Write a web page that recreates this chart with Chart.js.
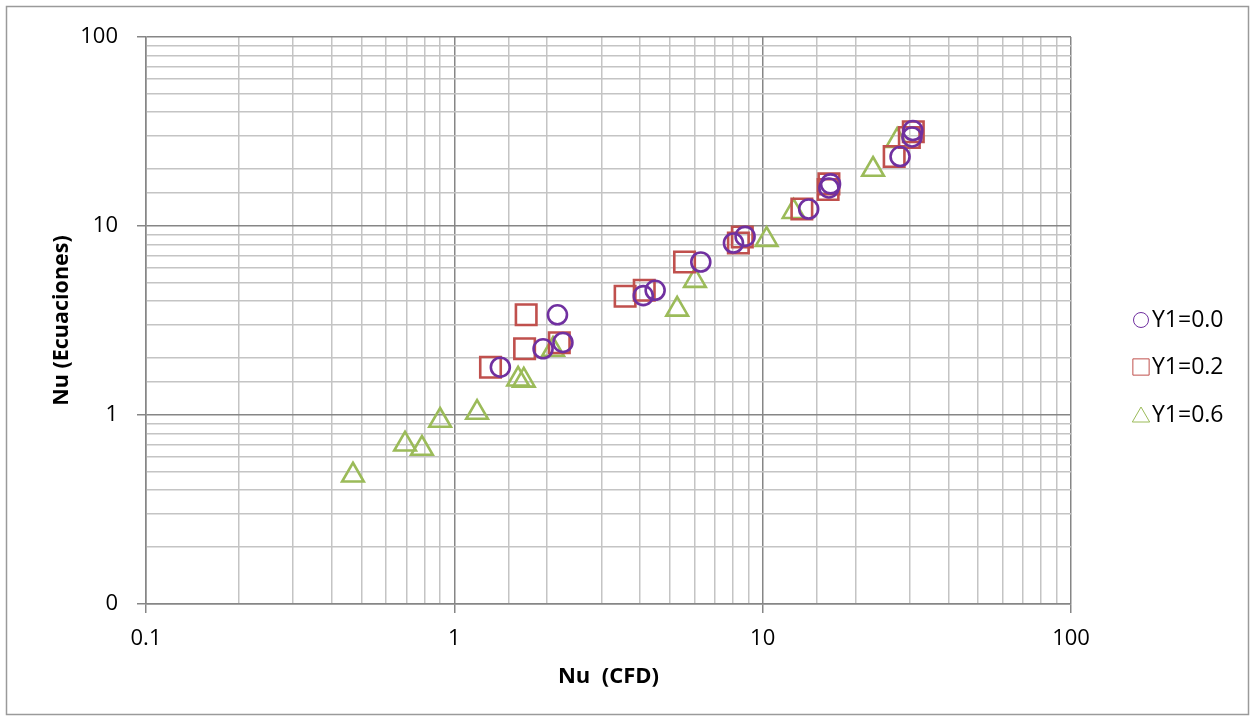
<!DOCTYPE html>
<html>
<head>
<meta charset="utf-8">
<script src="https://cdn.jsdelivr.net/npm/chart.js@4/dist/chart.umd.min.js"></script>
<style>
  html, body { margin: 0; padding: 0; background: #fff; }
  #wrap { width: 1255px; height: 721px; position: relative; }
</style>
</head>
<body>
<div id="wrap"><canvas id="nuChart" width="1255" height="721"></canvas></div>
<script>
// Nu (CFD) vs Nu (Ecuaciones), three Y1 cases
const labelsSeries = ['Y1=0.0', 'Y1=0.2', 'Y1=0.6'];

const y0_cfd = [1.41, 2.16, 1.94, 2.25, 4.10, 4.48, 6.30, 8.04, 8.77, 14.1, 16.4, 16.6, 27.9, 30.5, 30.7];
const y0_eq  = [1.79, 3.39, 2.24, 2.42, 4.28, 4.57, 6.45, 8.13, 8.81, 12.3, 15.9, 16.7, 23.3, 29.6, 32.0];

const y2_cfd = [1.31, 1.71, 1.69, 2.19, 3.58, 4.13, 5.58, 8.34, 8.59, 13.4, 16.3, 16.4, 26.7, 29.9, 30.8];
const y2_eq  = [1.79, 3.39, 2.24, 2.41, 4.25, 4.57, 6.45, 8.13, 8.75, 12.3, 15.6, 16.7, 23.3, 29.4, 31.5];

const y6_cfd = [0.469, 0.692, 0.785, 0.899, 1.185, 1.61, 1.68, 2.09, 5.28, 6.03, 10.3, 12.6, 22.8, 27.3];
const y6_eq  = [0.48, 0.70, 0.665, 0.935, 1.03, 1.545, 1.525, 2.22, 3.62, 5.14, 8.47, 11.9, 19.9, 28.3];

const colors = ['#7030A0', '#C0504D', '#9BBB59'];
const styles = ['circle', 'rect', 'triangle'];
const radii  = [9.5, 14.5, 12.5];

const toPts = (xs, ys) => xs.map((x, i) => ({ x: x, y: ys[i] }));
const seriesPts = [toPts(y0_cfd, y0_eq), toPts(y2_cfd, y2_eq), toPts(y6_cfd, y6_eq)];

const FONT = "'Open Sans', 'Liberation Sans', sans-serif";

function isDecade(v) {
  const l = Math.log10(v);
  return Math.abs(l - Math.round(l)) < 1e-6;
}

const gridColor = ctx => (ctx.tick && isDecade(ctx.tick.value)) ? '#868686' : '#c4c4c4';
const tickColor = ctx => (ctx.tick && isDecade(ctx.tick.value)) ? '#868686' : 'rgba(0,0,0,0)';

// outer frame + custom legend on the right
const framePlugin = {
  id: 'frame',
  beforeDraw(chart) {
    const c = chart.ctx;
    c.save();
    c.fillStyle = '#fff';
    c.fillRect(0, 0, chart.width, chart.height);
    c.strokeStyle = '#9a9a9a';
    c.lineWidth = 1.5;
    c.strokeRect(6.5, 6.5, 1242, 708);
    c.restore();
  },
  afterDraw(chart) {
    const c = chart.ctx;
    const ys = [320, 367, 415];
    c.save();
    c.font = '23px ' + FONT;
    c.textBaseline = 'middle';
    chart.data.datasets.forEach((ds, i) => {
      c.strokeStyle = ds.borderColor;
      c.fillStyle = 'rgba(0,0,0,0)';
      Chart.helpers.drawPoint(c, {
        pointStyle: ds.pointStyle,
        radius: [7.5, 11.5, 10][i],
        rotation: 0,
        borderWidth: 2.5
      }, 1141, ys[i] + (i === 2 ? 2 : 0));
      c.fillStyle = '#000';
      c.fillText(ds.label, 1152, ys[i]);
    });
    c.restore();
  }
};

new Chart(document.getElementById('nuChart'), {
  type: 'scatter',
  data: {
    datasets: labelsSeries.map((lab, i) => ({
      label: lab,
      data: seriesPts[i],
      pointStyle: styles[i],
      pointRadius: radii[i],
      pointHoverRadius: radii[i],
      borderColor: colors[i],
      backgroundColor: 'rgba(0,0,0,0)',
      pointBorderWidth: 2.6
    }))
  },
  options: {
    responsive: false,
    animation: false,
    layout: { padding: { top: 37, right: 184, bottom: 0, left: 0 } },
    plugins: {
      legend: { display: false },
      tooltip: { enabled: false }
    },
    scales: {
      x: {
        type: 'logarithmic',
        min: 0.1,
        max: 100,
        afterFit: s => { s.height = 117; },
        grid: { color: gridColor, tickColor: tickColor, lineWidth: 1.5, tickLength: 9 },
        border: { color: '#868686', width: 1.5 },
        ticks: {
          autoSkip: false,
          maxRotation: 0,
          padding: 13,
          color: '#000',
          font: { family: FONT, size: 22 },
          callback: v => isDecade(v) ? String(Number(v.toPrecision(3))) : ''
        },
        title: {
          display: true,
          text: 'Nu  (CFD)',
          color: '#000',
          font: { family: FONT, size: 22, weight: 'bold' },
          padding: { top: 0, bottom: 31 }
        }
      },
      y: {
        type: 'logarithmic',
        min: 0.1,
        max: 100,
        afterFit: s => { s.width = 146; },
        grid: { color: gridColor, tickColor: tickColor, lineWidth: 1.5, tickLength: 9 },
        border: { color: '#868686', width: 1.5 },
        ticks: {
          autoSkip: false,
          padding: 19,
          color: '#000',
          font: { family: FONT, size: 22 },
          callback: v => {
            if (!isDecade(v)) return '';
            return v < 1 ? '0' : String(Math.round(v));
          }
        },
        title: {
          display: true,
          text: 'Nu (Ecuaciones)',
          color: '#000',
          font: { family: FONT, size: 21.5, weight: 'bold' },
          padding: { top: 49, bottom: 0 }
        }
      }
    }
  },
  plugins: [framePlugin]
});
</script>
</body>
</html>
